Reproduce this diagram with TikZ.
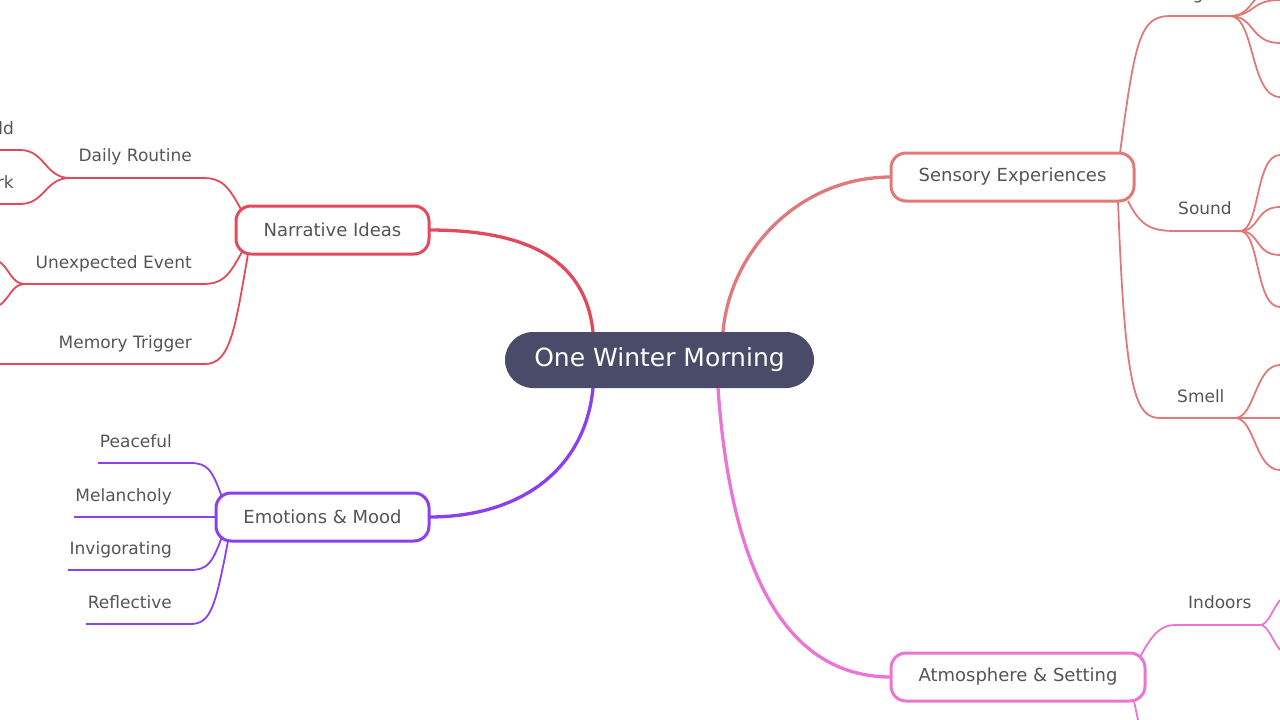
\documentclass[tikz,border=0pt]{standalone}
\usepackage{fontspec}
\setmainfont{DejaVu Sans}
\definecolor{txt}{HTML}{555555}
\definecolor{rootc}{HTML}{4A4B68}
\definecolor{narc}{HTML}{E24A5C}
\definecolor{emoc}{HTML}{8B3FEE}
\definecolor{senc}{HTML}{E07A7A}
\definecolor{atmc}{HTML}{EB74D4}
\begin{document}
\begin{tikzpicture}
  [x=1pt,y=-1pt,
  topic/.style={draw=#1,line width=3pt,fill=white,rounded corners=15pt,minimum height=48pt,
    text=txt,font=\fontsize{18}{20}\selectfont,inner sep=0pt},
  lbl/.style={text=txt,font=\fontsize{17}{19}\selectfont,anchor=base east,inner sep=0pt},
  rlbl/.style={text=txt,font=\fontsize{17}{19}\selectfont,anchor=base west,inner sep=0pt},
  main/.style={line width=3.3pt},
  sub/.style={line width=1.8pt}]

  \useasboundingbox (0,0) rectangle (1280,720);
  \clip (0,0) rectangle (1280,720);

  \node[fill=rootc,rounded corners=28pt,minimum width=309pt,minimum height=56pt,
    text=white,font=\fontsize{25}{28}\selectfont] (root) at (659.5,360) {One Winter Morning};

  % main branches
  \draw[main,narc] (593,332) .. controls (585,255) and (520,230) .. (429,230);
  \draw[main,emoc] (593,388) .. controls (585,470) and (520,517) .. (429,517);
  \draw[main,senc] (723,332) .. controls (730,250) and (800,177) .. (891,177);
  \draw[main,atmc] (718,388) .. controls (730,560) and (780,677) .. (891,677);

  % Narrative Ideas
  \begin{scope}[narc,sub]
    \draw (243,213) .. controls (228,185) and (222,178) .. (202,178) -- (70,178);
    \draw (70,178) .. controls (45,178) and (45,150) .. (20,150) -- (0,150);
    \draw (70,178) .. controls (45,178) and (45,204) .. (20,204) -- (0,204);
    \draw (243,250) .. controls (228,278) and (222,284) .. (202,284) -- (25,284);
    \draw (25,284) .. controls (12,284) and (10,270) .. (0,262);
    \draw (25,284) .. controls (12,284) and (10,298) .. (0,305);
    \draw (248,254) .. controls (235,330) and (230,364) .. (205,364) -- (0,364);
  \end{scope}
  \node[topic=narc,minimum width=193pt] (narr) at (332.5,230) {Narrative Ideas};
  \node[lbl] (daily) at (192,161) {Daily Routine};
  \node[lbl] (l1) at (14,134) {ld};
  \node[lbl] (l2) at (14,188) {rk};
  \node[lbl] (unexp) at (192,268) {Unexpected Event};
  \node[lbl] (memory) at (192,348) {Memory Trigger};

  % Emotions & Mood
  \begin{scope}[emoc,sub]
    \draw (222,497) .. controls (212,470) and (208,463) .. (190,463) -- (98,463);
    \draw (216,517) -- (74,517);
    \draw (222,537) .. controls (212,563) and (208,570) .. (190,570) -- (68,570);
    \draw (228,541) .. controls (215,610) and (210,624) .. (190,624) -- (86,624);
  \end{scope}
  \node[topic=emoc,minimum width=213pt] (emo) at (322.5,517) {Emotions \& Mood};
  \node[lbl] (peace) at (172,447) {Peaceful};
  \node[lbl] (melan) at (172,501) {Melancholy};
  \node[lbl] (invig) at (172,554) {Invigorating};
  \node[lbl] (refl) at (172,608) {Reflective};

  % Sensory Experiences
  \begin{scope}[senc,sub]
    \draw (1120,153) .. controls (1135,40) and (1140,16) .. (1170,16) -- (1230,16);
    \foreach \y in {-12,0,43,97}
      \draw (1230,16) .. controls (1255,16) and (1250,\y) .. (1280,\y);
    \draw (1128,201) .. controls (1140,225) and (1150,231) .. (1175,231) -- (1240,231);
    \foreach \y in {155,207,255,307}
      \draw (1240,231) .. controls (1260,231) and (1255,\y) .. (1280,\y);
    \draw (1118,201) .. controls (1125,390) and (1135,418) .. (1160,418) -- (1235,418);
    \foreach \y in {365,418,470}
      \draw (1235,418) .. controls (1255,418) and (1255,\y) .. (1280,\y);
  \end{scope}
  \node[topic=senc,minimum width=243pt] (sens) at (1012.5,177) {Sensory Experiences};
  \node[rlbl] (sight) at (1177,-1) {Sight};
  \node[rlbl] (sound) at (1178,214) {Sound};
  \node[rlbl] (smell) at (1177,402) {Smell};

  % Atmosphere & Setting
  \begin{scope}[atmc,sub]
    \draw (1140,657) .. controls (1152,635) and (1160,625) .. (1175,625) -- (1260,625);
    \draw (1260,625) .. controls (1268,625) and (1272,610) .. (1280,600);
    \draw (1260,625) .. controls (1268,625) and (1272,640) .. (1280,650);
    \draw (1134,701) -- (1138,720);
  \end{scope}
  \node[topic=atmc,minimum width=254pt] (atm) at (1018,677) {Atmosphere \& Setting};
  \node[rlbl] (indoor) at (1188,608) {Indoors};

\end{tikzpicture}
\end{document}
